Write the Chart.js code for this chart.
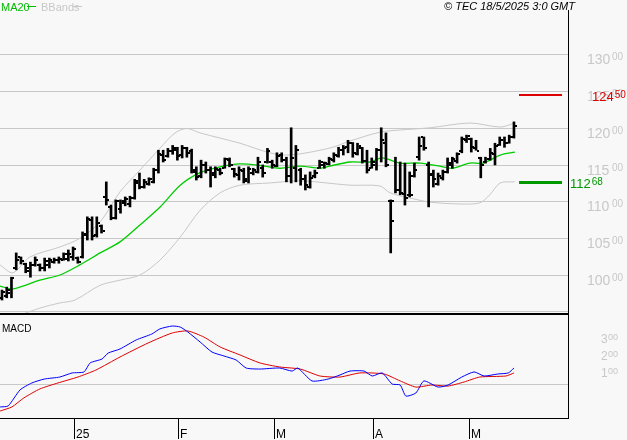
<!DOCTYPE html>
<html><head><meta charset="utf-8">
<script src="https://cdn.jsdelivr.net/npm/chart.js@4"></script>
<style>
html,body{margin:0;padding:0;background:#f8f8f8;width:627px;height:440px;overflow:hidden}
canvas{position:absolute;left:0}
#c1{top:0}#c2{top:316px}
</style></head><body>
<canvas id="c1" width="627" height="316"></canvas>
<canvas id="c2" width="627" height="124"></canvas>
<script>
// OHLC bars, one per trading day (index 0..108)
const highs=[97.95,98.35,99.7,103.0,102.45,101.6,101.75,102.45,101.5,102.3,102.3,102.3,102.45,103.0,103.4,103.8,102.45,105.85,107.9,107.9,107.9,106.8,112.65,109.5,110.2,110.2,110.6,110.7,113.0,113.85,113.0,113.2,114.5,116.95,116.95,117.2,117.6,117.35,117.6,117.35,117.1,114.7,115.6,115.35,114.7,114.7,114.5,115.9,115.9,114.5,114.7,114.5,114.7,114.5,116.0,114.95,117.2,115.6,116.6,116.6,116.0,120.0,117.6,114.5,113.6,114.0,114.25,115.6,115.35,116.0,116.6,117.35,117.6,118.3,118.0,117.9,117.35,116.95,115.9,117.2,120.0,119.3,110.2,116.0,115.35,115.2,114.0,115.2,118.75,118.75,115.35,114.25,113.85,114.25,115.9,116.0,116.6,118.75,119.0,118.6,118.3,116.0,116.0,117.2,117.9,118.75,118.75,119.0,120.8];
const lows=[96.6,96.9,96.9,100.7,101.5,100.3,99.7,101.2,100.55,100.55,100.95,101.6,101.6,102.0,101.9,102.0,101.6,102.3,104.75,104.75,105.15,105.7,109.5,107.5,107.6,108.4,109.4,109.25,110.3,111.7,111.8,112.2,112.5,113.85,115.35,116.0,116.4,115.6,115.9,116.0,113.85,112.9,113.2,113.85,111.95,113.2,113.6,114.5,114.7,113.3,112.9,112.5,112.5,113.6,113.85,113.3,115.2,114.5,114.7,115.35,112.65,112.5,112.65,112.2,111.55,111.8,113.2,114.5,114.5,114.95,115.35,116.0,116.3,116.6,116.0,116.3,115.2,113.85,114.5,114.25,115.35,114.7,103.0,111.15,110.9,109.5,110.6,113.3,115.6,116.95,109.25,111.95,112.2,112.9,113.85,114.5,115.2,116.6,118.0,116.7,116.95,113.2,115.2,115.6,114.95,117.6,117.35,117.9,118.6];
const opens=[96.9,97.2,97.5,101.0,102.4,101.5,100.5,101.3,101.4,100.9,101.3,101.7,102.0,102.1,102.2,102.5,102.3,102.4,105.5,107.5,105.4,106.6,110.6,109.2,107.8,109.0,109.8,109.6,110.5,112.8,112.0,112.4,112.6,114.2,116.3,116.2,116.9,117.0,116.3,117.2,116.8,114.0,113.4,115.0,114.2,113.6,114.3,114.6,115.6,114.4,113.6,114.1,113.0,113.8,114.0,114.6,115.3,115.4,114.8,116.3,115.6,113.5,114.5,114.2,113.0,112.0,113.5,114.6,115.0,115.1,115.6,116.2,117.0,117.4,118.0,116.5,117.3,115.5,114.6,115.0,117.0,118.0,110.0,110.0,111.5,111.0,110.8,113.5,116.0,118.7,115.0,113.6,112.4,113.2,114.0,115.0,115.5,116.8,118.3,118.5,117.2,115.9,115.3,115.8,116.5,117.7,118.4,118.0,118.8];
const closes=[97.7,97.9,99.6,102.0,101.9,100.9,101.3,102.0,100.9,101.9,102.0,102.0,102.2,102.8,102.9,103.5,101.8,105.6,107.6,105.3,107.0,106.0,110.2,107.8,110.0,110.0,110.3,110.5,112.5,112.0,112.6,113.0,114.3,116.5,115.6,116.9,117.3,116.2,117.2,116.6,114.2,113.3,115.0,114.2,113.9,114.4,113.8,115.7,115.0,113.7,114.3,112.8,114.4,114.2,115.4,113.8,116.8,114.9,116.2,115.6,113.5,115.9,117.0,113.0,112.2,113.2,113.8,115.4,115.2,115.8,116.3,117.0,117.3,118.0,116.6,117.5,115.5,114.2,115.4,117.0,118.4,115.0,107.3,111.5,111.2,110.5,110.9,114.3,117.5,117.2,113.7,113.0,113.4,114.0,115.2,115.8,116.4,118.5,118.9,117.4,116.8,115.0,115.8,116.6,117.5,118.4,118.0,118.7,120.2];

// MA20 read at positions (bar index, value)
const maIdx=[-0.4,2.3,8.0,12.2,16.5,20.7,24.9,29.1,33.3,37.6,41.8,46.0,50.2,54.4,58.6,62.9,67.1,69.2,73.4,77.6,80.2,84.0,88.2,93.0,95.1,98.7,101.5,105.1,108.2];
const maVal=[98.5,98.1,99.3,100.0,101.4,103.0,104.5,106.8,109.2,112.2,113.9,114.7,115.1,114.9,114.5,114.8,114.5,114.8,115.35,115.35,115.9,115.2,115.2,114.7,114.5,115.2,115.2,116.3,116.7];
const bbUpIdx=[-0.4,2.3,5.9,12.2,16.5,20.7,24.9,29.1,33.3,36.5,39.0,41.8,50.2,56.5,60.8,69.2,73.4,79.7,84.0,90.3,98.7,105.1,108.2];
const bbUpVal=[101.35,100.3,102.45,103.8,105.0,107.2,111.3,114.25,117.2,119.3,119.9,119.3,117.9,116.6,116.3,117.25,118.2,119.4,119.7,120.0,120.65,120.1,120.65];
const bbLoIdx=[4.0,8.0,12.2,15.4,20.7,24.9,29.1,33.3,37.6,41.8,46.0,50.2,56.5,62.9,73.4,79.7,81.9,86.1,90.3,96.6,100.8,102.9,105.1,108.2];
const bbLoVal=[94.6,95.5,96.2,96.6,98.6,99.3,100.0,102.0,105.15,108.8,111.15,112.2,112.5,112.8,112.2,112.1,111.15,110.45,109.9,109.65,109.8,110.9,112.5,112.65];

// MACD
const macdIdx=[-0.4,1.3,3.8,6.3,8.9,12.2,14.8,17.3,18.6,21.1,22.4,24.9,28.3,31.6,33.3,35.9,37.6,39.2,41.8,44.3,46.8,49.4,51.5,54.4,58.6,61.2,62.4,65.4,68.8,71.3,73.4,76.4,78.1,80.2,82.3,84.0,85.2,87.3,89.0,92.0,94.1,97.0,99.6,101.7,104.6,106.8,108.0];
const macdVal=[-135,-129,-35,6,29,41,65,71,124,147,182,206,259,294,324,341,335,306,247,188,165,141,94,88,94,76,94,18,29,53,76,76,47,65,0,-6,-71,-53,18,-18,-6,41,71,47,59,65,94];
const sigIdx=[-0.4,2.1,4.6,8.0,11.8,16.0,19.8,24.9,30.8,35.9,39.2,42.6,46.0,50.2,54.4,58.6,62.9,67.1,71.3,75.5,80.6,84.0,87.3,90.7,94.1,97.5,100.8,106.3,108.0];
const sigVal=[-159,-135,-82,-29,6,41,82,159,241,300,312,276,218,171,124,100,88,47,41,65,59,18,-18,-6,-12,12,41,47,65];

const priceTicks=[100,105,110,115,120,125,130];
const macdTicks=[100,200,300];
const monthIdx=[15.2,37.1,57.4,78.3,98.5];
const monthLbl=["25","F","M","A","M"];
const resistance=124.50, support=112.68;

const XMIN=-0.42, XMAX=119.4;
const pts=(ix,v)=>ix.map((x,i)=>({x:x,y:v[i]}));
Chart.defaults.animation=false;
Chart.defaults.devicePixelRatio=1;
const FONT='"Liberation Sans", Arial, sans-serif';

const ohlcPlugin={id:'ohlc',
 beforeDraw(c){const ctx=c.ctx,y=c.scales.y,a=c.chartArea;ctx.save();ctx.fillStyle='#f8f8f8';ctx.fillRect(0,0,c.width,c.height);
  ctx.strokeStyle='#c8c8c8';ctx.lineWidth=1;
  priceTicks.forEach(t=>{const py=Math.round(y.getPixelForValue(t))+0.5;ctx.beginPath();ctx.moveTo(0,py);ctx.lineTo(a.right,py);ctx.stroke();});
  ctx.restore();},
 afterDatasetsDraw(c){const ctx=c.ctx,x=c.scales.x,y=c.scales.y;ctx.save();ctx.fillStyle='#000';
  opens.forEach((o,i)=>{const px=Math.round(x.getPixelForValue(i));
   ctx.fillRect(px-3,Math.round(y.getPixelForValue(o))-1,2,2);
   ctx.fillRect(px+1,Math.round(y.getPixelForValue(closes[i]))-1,2,2);});
  ctx.fillStyle='#dd0000';ctx.fillRect(519,Math.round(y.getPixelForValue(resistance))-1,43,2);
  ctx.fillStyle='#009900';ctx.fillRect(519,Math.round(y.getPixelForValue(support))-1,43,3);
  ctx.restore();},
 afterDraw(c){const ctx=c.ctx,y=c.scales.y,a=c.chartArea;ctx.save();
  ctx.fillStyle='#000';ctx.fillRect(568,10,1,306);ctx.fillRect(0,313,569,2);
  ctx.fillStyle='#c8c8c8';ctx.fillRect(0,311,568,1);
  ctx.textBaseline='alphabetic';
  priceTicks.forEach(t=>{const py=y.getPixelForValue(t)+10;
   ctx.fillStyle='#c8c8c8';ctx.font='14px '+FONT;ctx.textAlign='left';ctx.fillText(String(t),587,py);
   ctx.font='10px '+FONT;ctx.fillText('00',612,py-4);});
  function lab(v,col,x0){const py=y.getPixelForValue(v)+6;ctx.fillStyle=col;ctx.font='13px '+FONT;ctx.textAlign='left';
   const s=v.toFixed(2).split('.');ctx.fillText(s[0],x0,py);const w=ctx.measureText(s[0]).width;ctx.font='10px '+FONT;ctx.fillText(s[1],x0+w+1,py-3);}
  lab(resistance,'#dd0000',592);lab(support,'#009900',570);
  ctx.font='11px '+FONT;ctx.textAlign='left';
  ctx.fillStyle='#00bb00';ctx.fillText('MA20',1,11);ctx.fillRect(27,6,9,1);
  ctx.fillStyle='#c8c8c8';ctx.fillText('BBands',41,11);ctx.fillRect(73,6,9,1);
  ctx.fillStyle='#000';ctx.font='italic 11px '+FONT;ctx.textAlign='right';ctx.fillText('© TEC 18/5/2025 3:0 GMT',575,10);
  ctx.restore();}
};

new Chart(document.getElementById('c1'),{
 data:{datasets:[
  {type:'bar',data:highs.map((h,i)=>({x:i,y:[lows[i],h]})),backgroundColor:'#000',barThickness:2,grouped:false,order:1},
  {type:'line',data:pts(maIdx,maVal),borderColor:'#00cc00',borderWidth:1.3,pointRadius:0,tension:0.3,order:2},
  {type:'line',data:pts(bbUpIdx,bbUpVal),borderColor:'#c8c8c8',borderWidth:1,pointRadius:0,tension:0.3,order:3},
  {type:'line',data:pts(bbLoIdx,bbLoVal),borderColor:'#c8c8c8',borderWidth:1,pointRadius:0,tension:0.3,order:3}]},
 options:{responsive:false,layout:{padding:{left:0,right:59,top:12,bottom:2}},
  plugins:{legend:{display:false},tooltip:{enabled:false}},
  scales:{x:{type:'linear',min:XMIN,max:XMAX,offset:false,display:false},y:{min:94.7,max:135.73,display:false}}},
 plugins:[ohlcPlugin]});

const macdPlugin={id:'macd',
 beforeDraw(c){const ctx=c.ctx,y=c.scales.y,a=c.chartArea;ctx.save();ctx.fillStyle='#f8f8f8';ctx.fillRect(0,0,c.width,c.height);
  ctx.fillStyle='#c8c8c8';ctx.fillRect(0,Math.round(y.getPixelForValue(0)),568,1);ctx.restore();},
 afterDraw(c){const ctx=c.ctx,y=c.scales.y,x=c.scales.x;ctx.save();
  ctx.fillStyle='#000';ctx.fillRect(568,0,1,103);ctx.fillRect(0,102,569,1);
  ctx.font='10px '+FONT;ctx.textAlign='left';ctx.fillText('MACD',2,16);
  macdTicks.forEach(t=>{const py=y.getPixelForValue(t)+10;ctx.fillStyle='#c8c8c8';
   ctx.font='12px '+FONT;ctx.fillText(String(t/100),601,py);ctx.font='9px '+FONT;ctx.fillText('00',608,py-3);});
  ctx.fillStyle='#000';
  monthIdx.forEach((m,i)=>{const px=Math.round(x.getPixelForValue(m));ctx.fillRect(px,103,1,20);
   ctx.font='12px '+FONT;ctx.fillText(monthLbl[i],px+2,122);});
  ctx.restore();}
};
new Chart(document.getElementById('c2'),{
 type:'line',
 data:{datasets:[
  {data:pts(macdIdx,macdVal),borderColor:'#0000ff',borderWidth:1,pointRadius:0,tension:0.2},
  {data:pts(sigIdx,sigVal),borderColor:'#dd0000',borderWidth:1,pointRadius:0,tension:0.2}]},
 options:{responsive:false,layout:{padding:{left:0,right:59,top:0,bottom:22}},
  plugins:{legend:{display:false},tooltip:{enabled:false}},
  scales:{x:{type:'linear',min:XMIN,max:XMAX,display:false},y:{min:-200,max:400,display:false}}},
 plugins:[macdPlugin]});
</script></body></html>
